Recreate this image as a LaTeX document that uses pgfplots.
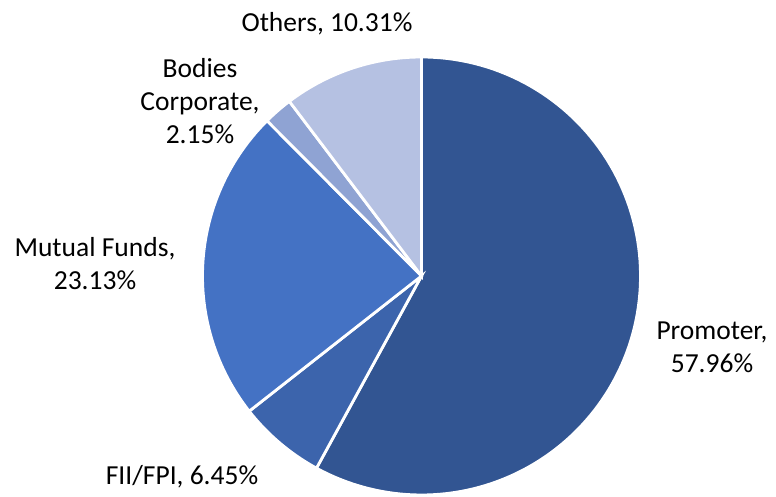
\documentclass[border=0pt]{standalone}
\usepackage{fontspec}
\setmainfont{Carlito}
\usepackage{pgfplots}
\pgfplotsset{compat=1.18}
\definecolor{cPro}{HTML}{325592}
\definecolor{cFII}{HTML}{3C64AC}
\definecolor{cMF}{HTML}{4472C4}
\definecolor{cBC}{HTML}{8FA3D3}
\definecolor{cOth}{HTML}{B5C1E2}
% shares (%)
\def\vPro{57.96}
\def\vFII{6.45}
\def\vMF{23.13}
\def\vBC{2.15}
\def\vOth{10.31}
\pgfmathsetmacro\aA{90}
\pgfmathsetmacro\aB{\aA-3.6*\vPro}
\pgfmathsetmacro\aC{\aB-3.6*\vFII}
\pgfmathsetmacro\aD{\aC-3.6*\vMF}
\pgfmathsetmacro\aE{\aD-3.6*\vBC}
\pgfmathsetmacro\aF{\aE-3.6*\vOth}
\def\cx{421.5}
\def\cy{221}
\def\rr{219}
\begin{document}
\begin{tikzpicture}
\begin{axis}[
  scale only axis, width=776pt, height=497pt,
  xmin=0, xmax=776, ymin=0, ymax=497,
  hide axis, clip=false,
  every axis plot/.append style={draw=white, line width=2.8pt, line join=miter},
]
\path (axis cs:0,0) rectangle (axis cs:776,497);
\addplot[fill=cPro, domain=\aB:\aA, samples=120, variable=\t] ({\cx+\rr*cos(\t)},{\cy+\rr*sin(\t)}) -- (axis cs:\cx,\cy) -- cycle;
\addplot[fill=cFII, domain=\aC:\aB, samples=30, variable=\t] ({\cx+\rr*cos(\t)},{\cy+\rr*sin(\t)}) -- (axis cs:\cx,\cy) -- cycle;
\addplot[fill=cMF, domain=\aD:\aC, samples=60, variable=\t] ({\cx+\rr*cos(\t)},{\cy+\rr*sin(\t)}) -- (axis cs:\cx,\cy) -- cycle;
\addplot[fill=cBC, domain=\aE:\aD, samples=10, variable=\t] ({\cx+\rr*cos(\t)},{\cy+\rr*sin(\t)}) -- (axis cs:\cx,\cy) -- cycle;
\addplot[fill=cOth, domain=\aF:\aE, samples=30, variable=\t] ({\cx+\rr*cos(\t)},{\cy+\rr*sin(\t)}) -- (axis cs:\cx,\cy) -- cycle;
\tikzset{lbl/.style={font=\fontsize{27.5}{33}\selectfont, align=center, text=black, inner sep=0pt}}
\node[lbl] at (axis cs:327,473) {Others, 10.31\%};
\node[lbl] at (axis cs:200,396) {Bodies\\Corporate,\\2.15\%};
\node[lbl] at (axis cs:95,233) {Mutual Funds,\\23.13\%};
\node[lbl] at (axis cs:712,150) {Promoter,\\57.96\%};
\node[lbl] at (axis cs:182,20) {FII/FPI, 6.45\%};
\end{axis}
\end{tikzpicture}
\end{document}
